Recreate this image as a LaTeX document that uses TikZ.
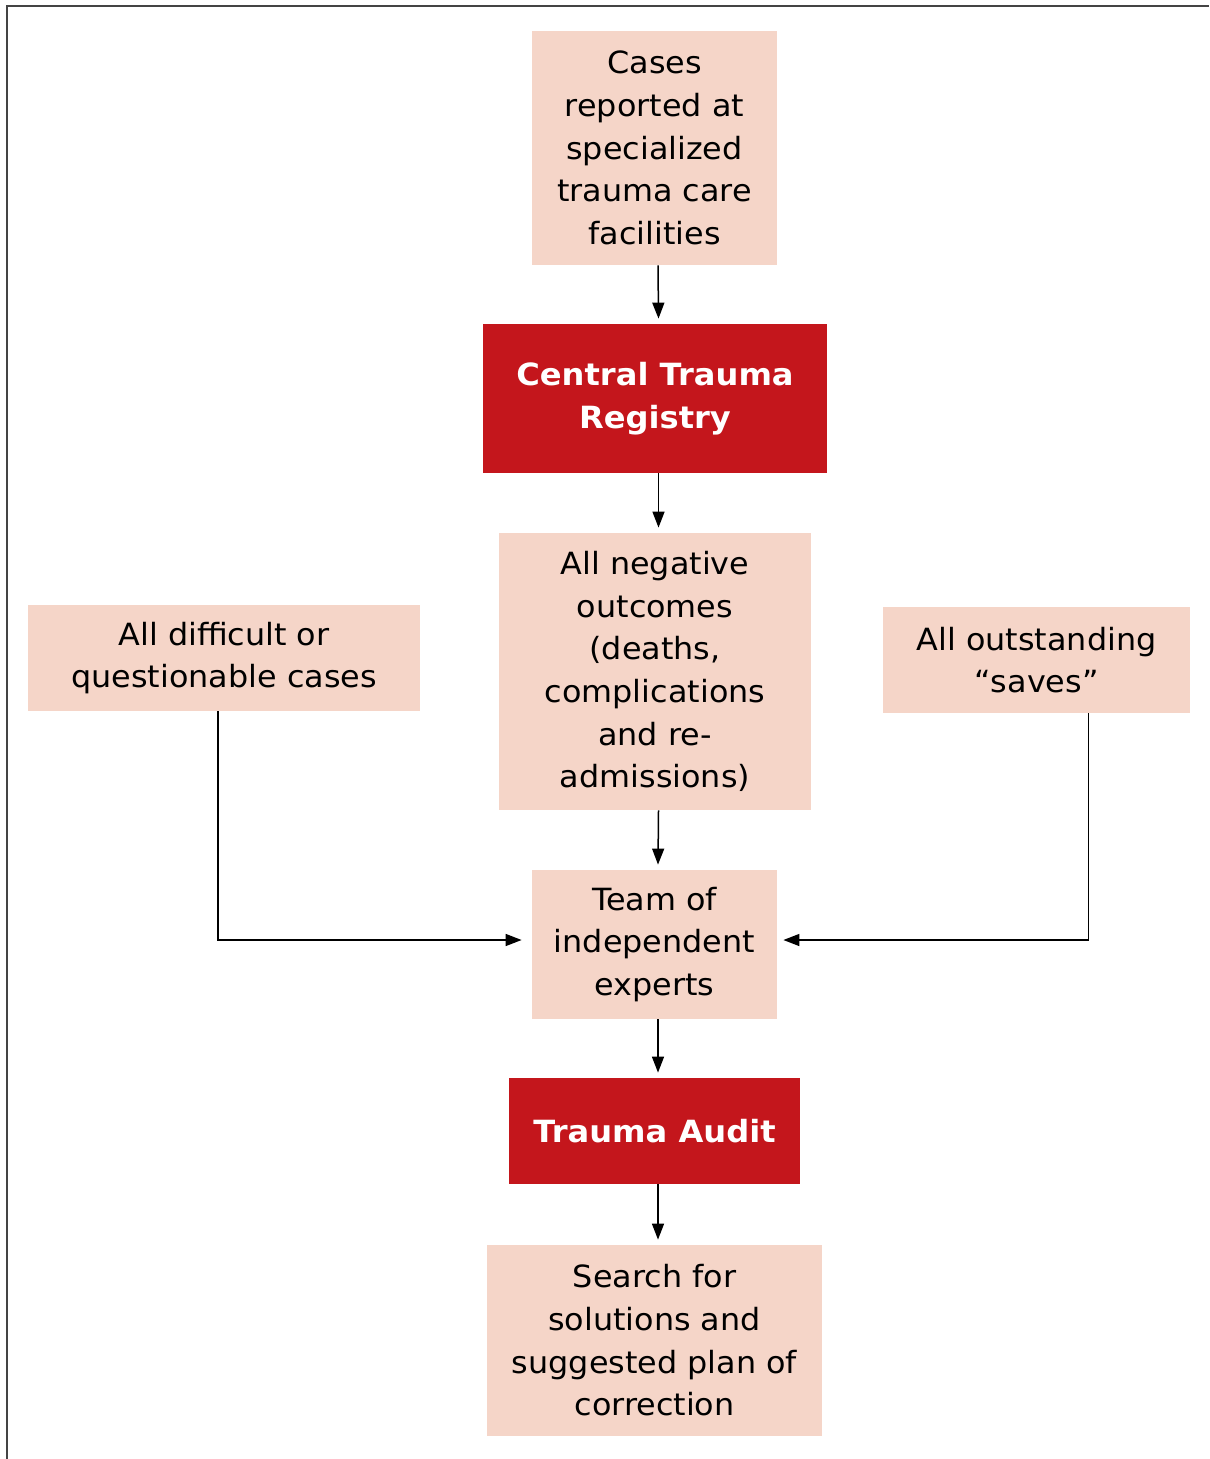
\documentclass[tikz,border=0pt]{standalone}
\usepackage{fontspec}
\setmainfont{DejaVu Sans}[FakeStretch=1.04]
\newfontfamily\widebold{DejaVu Sans Bold}[FakeStretch=1.05]
\usetikzlibrary{arrows.meta}
\definecolor{lightbox}{HTML}{F5D5C8}
\definecolor{darkbox}{HTML}{C4161C}
\definecolor{framegray}{HTML}{444444}
\begin{document}
\begin{tikzpicture}[x=0.5pt,y=-0.5pt,
  txt/.style={font=\fontsize{15.3pt}{21.35pt}\selectfont, align=center, inner sep=0pt},
  lbox/.style={txt, fill=lightbox, text=black},
  dbox/.style={txt, fill=darkbox, text=white, font=\fontsize{15.3pt}{21.35pt}\selectfont\widebold},
  arr/.style={line width=0.75pt, -{Triangle[length=8pt,width=6pt]}}
]
\useasboundingbox (0,0) rectangle (1209,1459);
\draw[framegray, line width=1pt] (7,1459) -- (7,6) -- (1209,6);

\node[lbox, minimum width=122.5pt, minimum height=117pt] (cases) at (654.5,148)
  {Cases\\reported at\\specialized\\trauma care\\facilities};
\node[dbox, minimum width=172pt, minimum height=74.5pt] (ctr) at (655,398.5)
  {Central Trauma\\Registry};
\node[lbox, minimum width=156pt, minimum height=138.5pt] (neg) at (655,671.5)
  {All negative\\outcomes\\(deaths,\\complications\\and re-\\admissions)};
\node[lbox, minimum width=196pt, minimum height=53pt] (diff) at (224,658)
  {All difficult or\\questionable cases};
\node[lbox, minimum width=153.5pt, minimum height=53pt] (out) at (1036.5,660)
  {All outstanding\\“saves”};
\node[lbox, minimum width=122.5pt, minimum height=74.5pt] (team) at (654.5,944.5)
  {Team of\\independent\\experts};
\node[dbox, minimum width=145.5pt, minimum height=53pt] (audit) at (654.5,1131)
  {Trauma Audit};
\node[lbox, minimum width=167.5pt, minimum height=95.5pt] (search) at (654.5,1340.5)
  {Search for\\solutions and\\suggested plan of\\correction};

\draw[arr] ([xshift=1.75pt]cases.south) -- ([xshift=1.75pt,yshift=2.5pt]ctr.north);
\draw[arr] ([xshift=1.75pt]ctr.south) -- ([xshift=1.75pt,yshift=2.5pt]neg.north);
\draw[arr] ([xshift=1.75pt]neg.south) -- ([xshift=1.75pt,yshift=2.5pt]team.north);
\draw[arr] ([xshift=1.75pt]team.south) -- ([xshift=1.75pt,yshift=2.5pt]audit.north);
\draw[arr] ([xshift=1.75pt]audit.south) -- ([xshift=1.75pt,yshift=2.5pt]search.north);
\draw[arr] ([xshift=-3pt]diff.south) |- ([xshift=-5pt,yshift=2.25pt]team.west);
\draw[arr] ([xshift=26pt]out.south) |- ([xshift=3pt,yshift=2.25pt]team.east);
\end{tikzpicture}
\end{document}
